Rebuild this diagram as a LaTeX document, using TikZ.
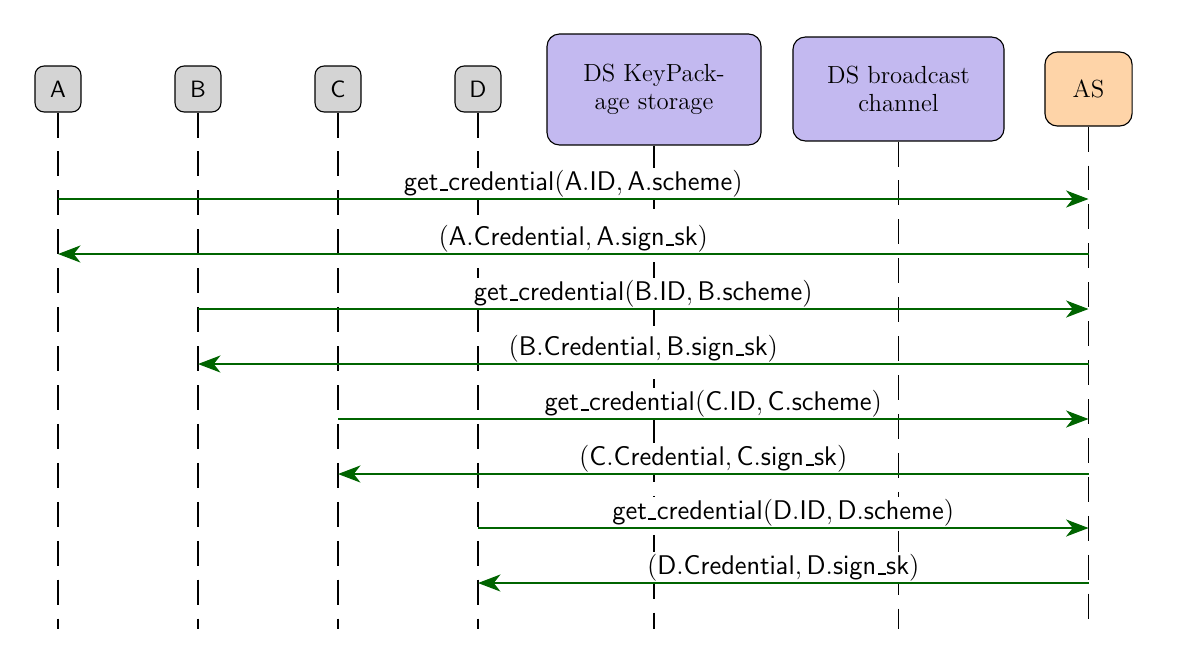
\documentclass[tikz,border=0pt]{standalone}
\usetikzlibrary{arrows.meta}
\definecolor{msggreen}{RGB}{0,100,0}
\definecolor{actgray}{RGB}{212,212,212}
\definecolor{dsviolet}{RGB}{195,185,240}
\definecolor{aspeach}{RGB}{254,212,168}
\newcommand{\us}{\kern.06em\rule[-0.2pt]{.3em}{0.7pt}\kern.02em}
\newcommand{\getcred}[1]{$\mathsf{get\us credential}(\mathsf{#1.ID},\mathsf{#1.scheme})$}
\newcommand{\credret}[1]{$(\mathsf{#1.Credential},\mathsf{#1.sign\us sk})$}
\begin{document}
\begin{tikzpicture}[x=0.4444pt,y=-0.4444pt,
  actor/.style={draw=black, line width=0.5pt, fill=actgray, rounded corners=4pt,
    minimum width=20.4pt, minimum height=20.4pt, inner sep=0pt,
    font=\sffamily\fontsize{10.5}{12}\selectfont},
  dsbox/.style={draw=black, line width=0.5pt, fill=dsviolet, rounded corners=5.5pt,
    align=center, inner sep=0pt, font=\fontsize{11}{12.6}\selectfont},
  asbox/.style={draw=black, line width=0.5pt, fill=aspeach, rounded corners=5.5pt,
    minimum width=38.7pt, minimum height=32.9pt, inner sep=0pt,
    font=\fontsize{11}{12.6}\selectfont},
  lifeline/.style={draw=black, line width=0.5pt, dash pattern=on 11.1pt off 6.2pt},
  msg/.style={draw=msggreen, line width=0.5pt,
    -{Stealth[length=10pt,width=7.6pt,inset=3pt,fill=msggreen]}},
  lbl/.style={fill=white, text=black, anchor=south, inner xsep=3pt, inner ysep=1pt,
    text depth=2.6pt, font=\sffamily\fontsize{11.7}{14}\selectfont}
]
\useasboundingbox (0,0) rectangle (1182,664);

% participants
\node[actor] (A) at (58,89) {A};
\node[actor] (B) at (198,89) {B};
\node[actor] (C) at (338,89) {C};
\node[actor] (D) at (478,89) {D};
\node[dsbox, minimum width=95.1pt, minimum height=49.3pt] (KP) at (654,89.5) {DS KeyPack-\\age storage};
\node[dsbox, minimum width=93.8pt, minimum height=46.2pt] (BC) at (898.5,89) {DS broadcast\\channel};
\node[asbox] (AS) at (1088.5,89) {AS};

% lifelines
\coordinate (bot) at (0,629);
\foreach \p in {A,B,C,D,KP,BC,AS}{
  \draw[lifeline] (\p.south) -- (\p.south |- bot);
}

% message rows
\coordinate (r1) at (0,199);
\coordinate (r2) at (0,254);
\coordinate (r3) at (0,309);
\coordinate (r4) at (0,364);
\coordinate (r5) at (0,419);
\coordinate (r6) at (0,474);
\coordinate (r7) at (0,528);
\coordinate (r8) at (0,583);

\draw[msg] (A.south |- r1) -- (AS.south |- r1) node[lbl, midway] {\getcred{A}};
\draw[msg] (AS.south |- r2) -- (A.south |- r2) node[lbl, midway] {\credret{A}};
\draw[msg] (B.south |- r3) -- (AS.south |- r3) node[lbl, midway] {\getcred{B}};
\draw[msg] (AS.south |- r4) -- (B.south |- r4) node[lbl, midway] {\credret{B}};
\draw[msg] (C.south |- r5) -- (AS.south |- r5) node[lbl, midway] {\getcred{C}};
\draw[msg] (AS.south |- r6) -- (C.south |- r6) node[lbl, midway] {\credret{C}};
\draw[msg] (D.south |- r7) -- (AS.south |- r7) node[lbl, midway] {\getcred{D}};
\draw[msg] (AS.south |- r8) -- (D.south |- r8) node[lbl, midway] {\credret{D}};
\end{tikzpicture}
\end{document}
